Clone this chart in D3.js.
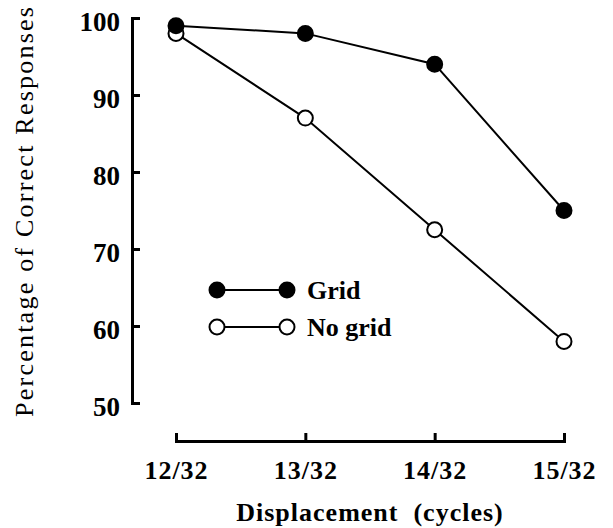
<!DOCTYPE html>
<html>
<head>
<meta charset="utf-8">
<script src="https://cdn.jsdelivr.net/npm/d3@7"></script>
<style>
  body { margin: 0; background: #fff; }
  svg { display: block; }
</style>
</head>
<body>
<svg id="chart" width="613" height="528"></svg>
<script>
const categories = ['12/32', '13/32', '14/32', '15/32'];
const gridValues = [99, 98, 94, 75];
const noGridValues = [98, 87, 72.5, 58];
const yTicks = [50, 60, 70, 80, 90, 100];
const seriesNames = ['Grid', 'No grid'];

const svg = d3.select('#chart');
const font = '"Liberation Serif", "Times New Roman", serif';

const x = d3.scalePoint().domain(categories).range([176, 564]);
const y = d3.scaleLinear().domain([50, 100]).range([403, 18]);

// y axis, ticks pointing into the plot
svg.append('g')
    .attr('transform', 'translate(132,0)')
    .call(d3.axisLeft(y).tickValues(yTicks).tickSizeInner(-8).tickSizeOuter(-8).tickPadding(12))
    .call(g => g.select('.domain').attr('stroke', '#000').attr('stroke-width', 3))
    .call(g => g.selectAll('.tick line').attr('stroke', '#000').attr('stroke-width', 3))
    .selectAll('text')
    .attr('fill', '#000')
    .attr('font-family', font)
    .attr('font-weight', 'bold')
    .attr('font-size', '27px')
    .attr('dy', '0.45em');

// x axis, ticks pointing up
svg.append('g')
    .attr('transform', 'translate(0,441)')
    .call(d3.axisBottom(x).tickSizeInner(-8).tickSizeOuter(-8).tickPadding(20))
    .call(g => g.select('.domain').attr('stroke', '#000').attr('stroke-width', 3))
    .call(g => g.selectAll('.tick line').attr('stroke', '#000').attr('stroke-width', 3))
    .selectAll('text')
    .attr('fill', '#000')
    .attr('font-family', font)
    .attr('font-weight', 'bold')
    .attr('font-size', '26px')
    .attr('letter-spacing', '1px');

// axis titles
svg.append('text')
    .attr('x', 370)
    .attr('y', 521)
    .attr('text-anchor', 'middle')
    .attr('font-family', font)
    .attr('font-weight', 'bold')
    .attr('font-size', '26px')
    .attr('letter-spacing', '1px')
    .style('white-space', 'pre')
    .text('Displacement  (cycles)');

svg.append('text')
    .attr('transform', 'translate(33,212) rotate(-90)')
    .attr('text-anchor', 'middle')
    .attr('font-family', font)
    .attr('font-size', '26px')
    .attr('textLength', 410)
    .attr('lengthAdjust', 'spacing')
    .text('Percentage of Correct Responses');

// lines and markers
const series = [
    { name: seriesNames[0], values: gridValues, fill: '#000' },
    { name: seriesNames[1], values: noGridValues, fill: '#fff' }
];
const line = d3.line()
    .x((d, i) => x(categories[i]))
    .y(d => y(d));

series.forEach(s => {
    svg.append('path')
        .datum(s.values)
        .attr('d', line)
        .attr('fill', 'none')
        .attr('stroke', '#000')
        .attr('stroke-width', 2);
});
// draw open markers first so the filled grid marker at 12/32 sits on top
[series[1], series[0]].forEach(s => {
    svg.selectAll(null)
        .data(s.values)
        .join('circle')
        .attr('cx', (d, i) => x(categories[i]))
        .attr('cy', d => y(d))
        .attr('r', 7.5)
        .attr('fill', s.fill)
        .attr('stroke', '#000')
        .attr('stroke-width', 2);
});

// legend
const legend = svg.append('g').attr('transform', 'translate(217,290)');
series.forEach((s, i) => {
    const row = legend.append('g').attr('transform', `translate(0,${i * 37})`);
    row.append('line')
        .attr('x1', 0).attr('x2', 70)
        .attr('stroke', '#000').attr('stroke-width', 2);
    row.selectAll('circle')
        .data([0, 70])
        .join('circle')
        .attr('cx', d => d)
        .attr('r', 7.5)
        .attr('fill', s.fill)
        .attr('stroke', '#000')
        .attr('stroke-width', 2);
    row.append('text')
        .attr('x', 90)
        .attr('y', 9)
        .attr('font-family', font)
        .attr('font-weight', 'bold')
        .attr('font-size', '26px')
        .text(s.name);
});
</script>
</body>
</html>
